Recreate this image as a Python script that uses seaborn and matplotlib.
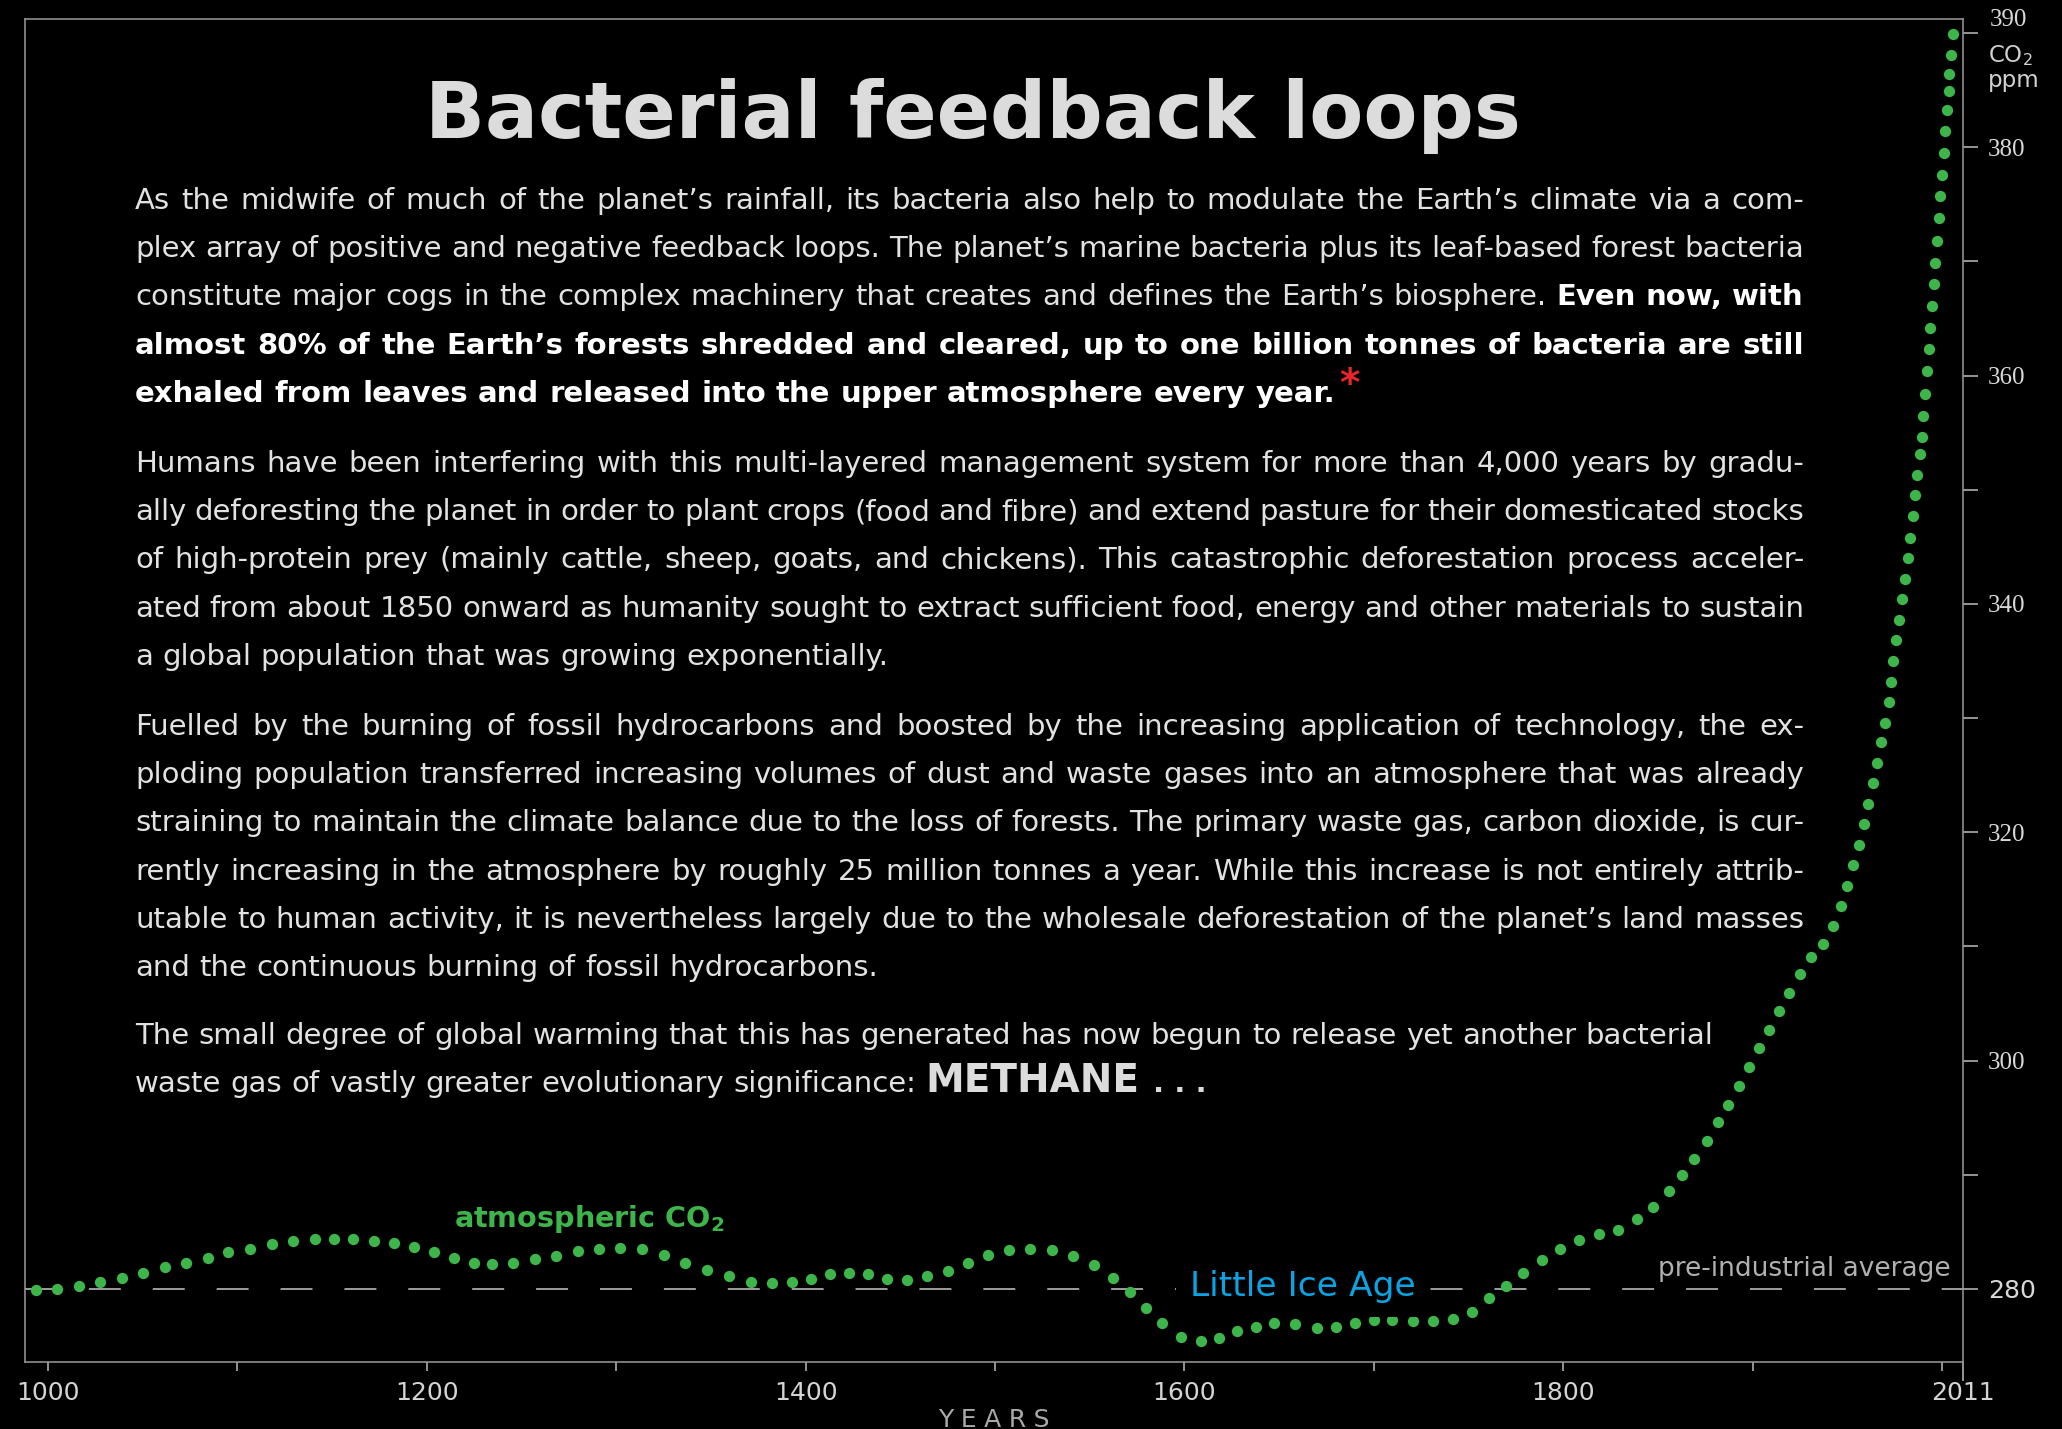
import numpy as np
import pandas as pd
import matplotlib
matplotlib.use('Agg')
from matplotlib import pyplot as plt
import seaborn as sns

# CO2 dots (year, ppm)
years = [993.5, 1004.8, 1016.4, 1027.7, 1039.0, 1050.3, 1061.6, 1073.0, 1084.3, 1095.3,
         1106.9, 1118.2, 1129.5, 1141.1, 1150.9, 1161.3, 1172.2, 1182.8, 1193.4, 1203.7,
         1214.2, 1224.8, 1234.6, 1245.7, 1257.0, 1268.4, 1279.7, 1291.0, 1302.1, 1313.6,
         1325.1, 1336.5, 1348.0, 1359.3, 1371.2, 1382.5, 1392.7, 1402.7, 1412.7, 1422.9,
         1432.9, 1442.8, 1453.3, 1464.1, 1475.2, 1485.7, 1496.5, 1507.5, 1518.5, 1530.1,
         1541.4, 1552.2, 1562.4, 1571.3, 1579.7, 1588.3, 1598.0, 1608.5, 1618.0, 1627.6,
         1637.6, 1647.3, 1658.3, 1669.9, 1679.9, 1690.1, 1699.8, 1709.8, 1720.6, 1731.1,
         1741.9, 1751.9, 1760.8, 1770.0, 1778.9, 1788.5, 1798.1, 1808.3, 1818.6, 1829.0,
         1839.1, 1847.5, 1855.6, 1862.7, 1869.2, 1875.6, 1881.4, 1887.1, 1892.7, 1897.9,
         1903.2, 1908.5, 1913.8, 1919.1, 1924.9, 1931.0, 1937.0, 1942.3, 1946.5, 1949.8,
         1953.0, 1956.0, 1958.5, 1961.1, 1963.3, 1965.7, 1967.9, 1969.6, 1971.7, 1972.9,
         1974.3, 1975.8, 1977.4, 1979.0, 1980.4, 1981.8, 1983.2, 1984.5, 1985.7, 1986.9,
         1988.1, 1989.2, 1989.9, 1990.8, 1991.9, 1992.9, 1993.8, 1994.7, 1995.5, 1996.4,
         1997.3, 1998.2, 1999.1, 1999.9, 2000.8, 2001.7, 2002.6, 2003.7, 2003.7, 2004.6,
         2005.8]
co2_ppm = [279.9, 280.0, 280.3, 280.6, 281.0, 281.4, 281.9, 282.3, 282.7, 283.2,
           283.5, 283.9, 284.2, 284.4, 284.4, 284.4, 284.2, 284.0, 283.7, 283.2,
           282.7, 282.3, 282.2, 282.3, 282.6, 282.9, 283.3, 283.5, 283.6, 283.5,
           283.0, 282.3, 281.7, 281.1, 280.6, 280.5, 280.6, 280.9, 281.3, 281.4,
           281.3, 280.9, 280.8, 281.1, 281.6, 282.3, 283.0, 283.4, 283.5, 283.4,
           282.9, 282.1, 281.0, 279.7, 278.3, 277.0, 275.8, 275.4, 275.7, 276.3,
           276.7, 277.0, 276.9, 276.6, 276.7, 277.0, 277.3, 277.3, 277.2, 277.2,
           277.4, 278.0, 279.2, 280.3, 281.4, 282.5, 283.5, 284.3, 284.8, 285.2,
           286.1, 287.2, 288.6, 290.0, 291.4, 293.0, 294.6, 296.1, 297.8, 299.4,
           301.1, 302.7, 304.3, 305.9, 307.6, 309.1, 310.2, 311.8, 313.5, 315.3,
           317.1, 318.9, 320.7, 322.5, 324.3, 326.1, 327.9, 329.6, 331.4, 333.2,
           335.0, 336.8, 338.6, 340.4, 342.2, 344.0, 345.8, 347.7, 349.5, 351.3,
           353.1, 354.6, 356.5, 358.4, 360.4, 362.3, 364.2, 366.1, 368.0, 369.9,
           371.8, 373.8, 375.7, 377.6, 379.5, 381.4, 383.3, 384.9, 386.4, 388.1,
           389.9]

baseline_ppm = 280
x_major = [1000, 1200, 1400, 1600, 1800, 2011]
x_minor = [1100, 1300, 1500, 1700, 1900, 2000]
y_major = [280, 300, 320, 340, 360, 380]
y_minor = [290, 310, 330, 350, 370, 390]

title = 'Bacterial feedback loops'

# paragraphs: each line is a list of (text, style); True = justified line
paragraphs = [
    [
        ([('As the midwife of much of the planet’s rainfall, its bacteria also help to modulate the Earth’s climate via a com-', 'n')], True),
        ([('plex array of positive and negative feedback loops. The planet’s marine bacteria plus its leaf-based forest bacteria', 'n')], True),
        ([('constitute major cogs in the complex machinery that creates and defines the Earth’s biosphere.', 'n'), ('Even now, with', 'b')], True),
        ([('almost 80% of the Earth’s forests shredded and cleared, up to one billion tonnes of bacteria are still', 'b')], True),
        ([('exhaled from leaves and released into the upper atmosphere every year.', 'b'), ('*', 'star')], False),
    ],
    [
        ([('Humans have been interfering with this multi-layered management system for more than 4,000 years by gradu-', 'n')], True),
        ([('ally deforesting the planet in order to plant crops (food and fibre) and extend pasture for their domesticated stocks', 'n')], True),
        ([('of high-protein prey (mainly cattle, sheep, goats, and chickens). This catastrophic deforestation process acceler-', 'n')], True),
        ([('ated from about 1850 onward as humanity sought to extract sufficient food, energy and other materials to sustain', 'n')], True),
        ([('a global population that was growing exponentially.', 'n')], False),
    ],
    [
        ([('Fuelled by the burning of fossil hydrocarbons and boosted by the increasing application of technology, the ex-', 'n')], True),
        ([('ploding population transferred increasing volumes of dust and waste gases into an atmosphere that was already', 'n')], True),
        ([('straining to maintain the climate balance due to the loss of forests. The primary waste gas, carbon dioxide, is cur-', 'n')], True),
        ([('rently increasing in the atmosphere by roughly 25 million tonnes a year. While this increase is not entirely attrib-', 'n')], True),
        ([('utable to human activity, it is nevertheless largely due to the wholesale deforestation of the planet’s land masses', 'n')], True),
        ([('and the continuous burning of fossil hydrocarbons.', 'n')], False),
    ],
    [
        ([('The small degree of global warming that this has generated has now begun to release yet another bacterial', 'n')], False),
        ([('waste gas of vastly greater evolutionary significance:', 'n'), ('METHANE', 'big'), ('.\u00a0.\u00a0.', 'dots')], False),
    ],
]
para_top = [209, 472, 735, 1044]   # first baseline of each paragraph, px from top
line_step = 48.2

GREEN = '#3db54a'
W, H = 2062, 1429

sns.set_theme(style='dark', rc={'axes.facecolor': 'black', 'figure.facecolor': 'black',
                                'savefig.facecolor': 'black', 'axes.grid': False})
plt.rcParams['font.family'] = ['DejaVu Sans']
plt.rcParams['lines.scale_dashes'] = False


def fx(px):
    return px / W


def fy(py):
    return 1 - py / H


fig = plt.figure(figsize=(W / 100, H / 100), dpi=100)
ax = fig.add_axes([fx(25), fy(1362), (1963 - 25) / W, (1362 - 19) / H])

df = pd.DataFrame({'year': years, 'co2': co2_ppm})
sns.scatterplot(data=df, x='year', y='co2', ax=ax, color=GREEN, s=66,
                linewidth=0, zorder=3, legend=False)
ax.axhline(baseline_ppm, color='#c8c8c8', lw=1.1, ls=(0, (23, 23)), zorder=1)

ax.set_xlim(987.9, 2011)
ax.set_ylim(273.6, 391.23)
ax.set_xlabel('')
ax.set_ylabel('')

for sp in ax.spines.values():
    sp.set_visible(True)
    sp.set_color('#9a9a9a')
    sp.set_linewidth(1.1)

ax.set_xticks(x_major)
ax.set_xticks(x_minor, minor=True)
ax.set_xticklabels([str(v) for v in x_major])
ax.tick_params(axis='x', which='both', bottom=True, top=False, direction='out',
               length=6.5, width=1.1, color='#bdbdbd', labelsize=18,
               labelcolor='#d4d4d4', pad=7)
ax.xaxis.get_major_ticks()[-1].tick1line.set_markersize(14)

ax.yaxis.tick_right()
ax.set_yticks(y_major)
ax.set_yticks(y_minor, minor=True)
ax.set_yticklabels([str(v) for v in y_major])
ax.tick_params(axis='y', which='both', left=False, right=True, direction='out',
               length=11, width=1.1, color='#bdbdbd', labelsize=18,
               labelcolor='#d8d8d8', pad=7)
for lbl in ax.get_yticklabels():
    if lbl.get_text() != '280':
        lbl.set_fontfamily('Liberation Serif')

ax.annotate('390', xy=(1, 390), xycoords=('axes fraction', 'data'),
            xytext=(27, 13), textcoords='offset pixels', va='center', ha='left',
            fontsize=18, color='#d8d8d8', family='Liberation Serif')
fig.text(fx(1988), fy(62), 'CO$_2$', fontsize=16.5, color='#d0d0d0', va='baseline')
fig.text(fx(1988), fy(87), 'ppm', fontsize=16.5, color='#d0d0d0', va='baseline')

fig.text(fx(994), fy(1427), 'Y\u2009\u200aE\u2009\u200aA\u2009\u200aR\u2009\u200aS', ha='center',
         va='baseline', fontsize=18, color='#a8a8a8')

fig.text(fx(454), fy(1227), 'atmospheric CO$_\\mathbf{2}$', fontsize=20.6,
         weight='bold', color=GREEN, va='baseline')
fig.text(fx(1190), fy(1296), 'Little Ice Age', fontsize=24.8, color='#0aa3e3',
         va='baseline', bbox=dict(facecolor='black', edgecolor='none', pad=10))
fig.text(fx(1951), fy(1276), 'pre-industrial average', fontsize=19,
         color='#b0b0b0', va='baseline', ha='right')

fig.text(fx(973), fy(138), title, ha='center', va='baseline', fontsize=56.7,
         weight='bold', color='#dcdcdc')

# body text, justified word by word
TEXT_LEFT, TEXT_RIGHT = 135, 1804
STYLES = {
    'n': dict(fontsize=21, color='#e2e2e2'),
    'b': dict(fontsize=21, color='white', weight='bold'),
    'star': dict(fontsize=28, color='#e8262b', weight='bold'),
    'big': dict(fontsize=28, color='#dcdcdc', weight='bold'),
    'dots': dict(fontsize=21, color='#dcdcdc', weight='bold'),
}
renderer = fig.canvas.get_renderer()


def width_px(t):
    return t.get_window_extent(renderer).width


SPACE = {}
for key, st in STYLES.items():
    a = fig.text(0, 0, 'a a', **st)
    b = fig.text(0, 0, 'aa', **st)
    SPACE[key] = width_px(a) - width_px(b)
    a.remove()
    b.remove()


def place_line(segments, base_y, justify):
    words = []
    for txt, style in segments:
        for w in txt.split(' '):
            if w:
                words.append((w, style))
    arts = [fig.text(0, fy(base_y), w, va='baseline', ha='left', **STYLES[s])
            for w, s in words]
    widths = [width_px(a) for a in arts]
    gap = None
    if justify:
        gap = (TEXT_RIGHT - TEXT_LEFT - sum(widths)) / (len(widths) - 1)
    x = TEXT_LEFT
    for a, w, (word, s) in zip(arts, widths, words):
        if s == 'star':
            x -= (gap if gap else SPACE['b']) - 4
            a.set_position((fx(x), fy(base_y - 6)))
        else:
            a.set_position((fx(x), fy(base_y)))
        x += w + (gap if gap else SPACE[s])


for top, para in zip(para_top, paragraphs):
    for i, (segments, justify) in enumerate(para):
        place_line(segments, top + i * line_step, justify)

fig.savefig('out.png', dpi=100, facecolor='black')
